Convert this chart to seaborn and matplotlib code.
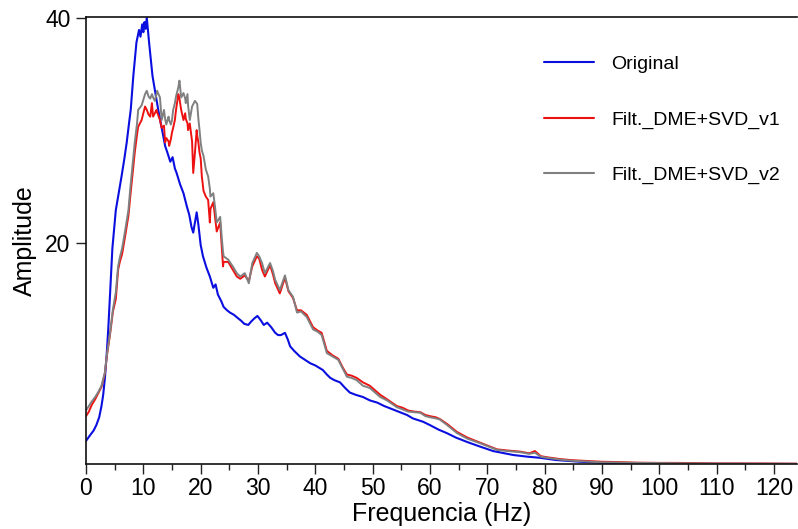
import matplotlib
matplotlib.use("Agg")
import matplotlib.pyplot as plt
import seaborn as sns
import pandas as pd
from matplotlib.ticker import MultipleLocator

# ---- data ----
freq_orig = [0.0, 0.7, 1.3, 1.8, 2.3, 2.7, 3.0, 3.3, 3.6, 3.9, 4.2, 4.6, 5.2, 5.7, 6.2,
             6.7, 7.1, 7.5, 7.8, 8.25, 8.8, 9.25, 9.5, 9.8, 10.0, 10.2, 10.4, 10.6,
             11.0, 11.6, 12.1, 12.6, 13.2, 13.8, 14.2, 14.7, 15.1, 15.5, 15.8, 16.4,
             17.0, 17.6, 18.0, 18.4, 18.7, 19.0, 19.3, 19.6, 20.0, 20.4, 21.0, 21.6,
             22.2, 22.6, 23.0, 23.6, 24.0, 24.6, 25.1, 25.8, 26.5, 27.0, 27.6, 28.3,
             28.8, 29.4, 29.9, 30.5, 31.0, 31.6, 32.3, 33.0, 33.5, 34.0, 34.7, 35.2,
             35.6, 36.3, 37.3, 38.2, 39.1, 40.0, 41.3, 42.0, 42.6, 43.3, 44.3, 45.2,
             46.0, 47.0, 48.3, 49.5, 50.8, 52.0, 53.0, 54.5, 56.0, 57.0, 58.8, 60.0,
             61.5, 62.9, 64.5, 66.5, 68.7, 71.0, 73.0, 74.5, 77.0, 79.2, 82.0, 86.2,
             90.0, 95.0, 100.0, 110.0, 124.0]
amp_orig = [2.4, 2.9, 3.3, 3.8, 4.5, 5.5, 6.5, 8.0, 10.0, 12.5, 15.5, 19.5, 22.9, 24.4, 25.9,
            27.5, 28.9, 30.6, 31.8, 34.8, 37.8, 38.9, 38.3, 39.4, 38.7, 39.6, 39.0, 40.0,
            37.8, 34.8, 33.3, 31.8, 30.2, 28.6, 28.0, 27.2, 27.6, 26.6, 26.2, 25.2,
            24.4, 23.2, 22.5, 21.4, 20.9, 21.8, 22.7, 21.6, 19.8, 18.8, 17.8, 17.0,
            16.0, 16.3, 15.4, 14.8, 14.3, 14.0, 13.8, 13.6, 13.3, 13.1, 12.8, 12.7,
            13.0, 13.3, 13.5, 13.1, 12.7, 12.9, 12.5, 12.0, 11.8, 11.8, 12.0, 11.4,
            10.8, 10.4, 9.9, 9.6, 9.3, 9.1, 8.7, 8.3, 8.0, 7.8, 7.6, 7.1,
            6.7, 6.5, 6.3, 6.0, 5.8, 5.5, 5.3, 5.0, 4.7, 4.4, 4.1, 3.8,
            3.4, 3.1, 2.7, 2.3, 1.9, 1.5, 1.3, 1.15, 1.0, 0.9, 0.7, 0.55,
            0.45, 0.4, 0.38, 0.36, 0.35]

freq_filt = [0.0, 0.5, 1.0, 1.6, 2.2, 2.7, 3.3, 3.6, 4.2, 4.7, 5.2, 5.6, 5.9, 6.3, 6.8,
             7.4, 7.7, 8.1, 8.5, 8.9, 9.1, 9.7, 10.0, 10.3, 10.6, 10.9, 11.2, 11.5,
             11.7, 12.0, 12.3, 12.4, 12.9, 13.2, 13.6, 13.8, 14.0, 14.4, 14.5, 14.8,
             15.0, 15.2, 15.5, 15.7, 16.1, 16.3, 16.6, 17.0, 17.3, 17.4, 17.7, 17.8,
             18.1, 18.5, 18.7, 19.0, 19.3, 19.4, 19.6, 19.8, 20.0, 20.2, 20.5, 20.9,
             21.3, 21.6, 21.7, 22.2, 22.5, 22.8, 23.4, 23.7, 23.9, 24.0, 24.8, 25.6,
             26.3, 26.9, 27.7, 28.4, 29.0, 29.8, 30.2, 30.7, 31.2, 32.1, 32.6, 33.0,
             33.8, 34.7, 35.3, 36.1, 36.8, 37.5, 38.5, 39.6, 40.4, 41.1, 42.0, 43.0,
             44.0, 44.8, 45.5, 46.3, 47.2, 48.3, 49.5, 50.4, 51.3, 52.5, 54.2, 55.2,
             56.2, 57.3, 58.3, 59.2, 60.0, 61.0, 61.7, 63.0, 64.7, 66.5, 68.7, 70.2,
             71.7, 73.5, 75.7, 77.3, 78.3, 79.3, 80.4, 82.5, 84.5, 86.2, 88.0, 90.0,
             93.0, 96.0, 100.0, 103.0, 110.0, 117.0, 124.0]
amp_v1 = [4.6, 5.0, 5.6, 6.1, 6.7, 7.2, 8.4, 9.8, 11.9, 13.9, 15.0, 17.6, 18.3, 19.0, 20.5,
          22.4, 24.0, 26.0, 28.0, 29.6, 30.3, 30.9, 31.5, 32.1, 31.8, 31.4, 31.2, 32.4,
          31.2, 31.5, 31.8, 31.6, 30.9, 30.2, 30.4, 28.9, 29.3, 29.0, 28.6, 29.2,
          29.8, 30.2, 30.9, 31.8, 33.2, 32.8, 31.8, 30.9, 31.5, 31.0, 30.6, 30.0,
          30.6, 29.0, 26.2, 28.0, 30.0, 29.5, 28.9, 28.0, 27.5, 25.9, 24.6, 24.1,
          23.8, 21.8, 23.0, 23.6, 22.3, 21.0, 21.8, 19.5, 17.9, 18.3, 18.3, 17.6,
          17.0, 16.8, 17.1, 16.6, 17.9, 18.8, 18.6, 17.6, 17.0, 18.0, 17.2, 16.4,
          15.5, 16.9, 15.7, 15.1, 14.0, 14.0, 13.6, 12.5, 12.2, 12.0, 10.4, 10.0,
          9.7, 8.9, 8.3, 8.2, 8.0, 7.6, 7.3, 6.9, 6.5, 6.1, 5.5, 5.35,
          5.1, 5.0, 4.95, 4.7, 4.6, 4.5, 4.35, 3.9, 3.2, 2.7, 2.25, 1.95,
          1.65, 1.55, 1.45, 1.3, 1.5, 1.05, 0.95, 0.8, 0.7, 0.65, 0.6, 0.55,
          0.52, 0.47, 0.45, 0.45, 0.4, 0.4, 0.38]
amp_v2 = [5.1, 5.5, 5.9, 6.3, 6.8, 7.3, 8.5, 9.9, 12.0, 14.1, 15.6, 17.9, 18.7, 19.5, 21.0,
          22.9, 24.7, 26.8, 28.9, 30.6, 31.8, 32.2, 32.7, 33.2, 33.5, 33.0, 32.8, 33.2,
          32.9, 32.6, 33.2, 33.5, 32.9, 30.9, 31.8, 31.0, 30.5, 31.2, 30.9, 30.5,
          30.9, 31.8, 32.4, 33.0, 33.8, 34.4, 32.9, 33.3, 32.8, 32.4, 33.2, 32.2,
          30.9, 32.1, 32.3, 32.6, 32.4, 32.3, 31.0, 30.0, 28.9, 28.2, 27.7, 26.5,
          25.9, 24.8, 24.1, 24.4, 23.2, 21.8, 22.3, 20.3, 19.2, 18.8, 18.5, 17.9,
          17.3, 17.0, 17.3, 16.4, 18.2, 19.1, 18.8, 18.2, 17.3, 18.2, 17.5, 16.7,
          15.8, 17.1, 15.8, 15.2, 13.8, 13.9, 13.4, 12.3, 12.1, 11.8, 10.2, 9.9,
          9.6, 8.8, 8.1, 8.0, 7.8, 7.3, 7.1, 6.7, 6.3, 6.0, 5.4, 5.2,
          5.0, 4.95, 4.9, 4.6, 4.5, 4.4, 4.3, 3.8, 3.1, 2.6, 2.2, 1.9,
          1.6, 1.5, 1.4, 1.25, 1.35, 1.0, 0.9, 0.75, 0.65, 0.6, 0.55, 0.5,
          0.48, 0.45, 0.43, 0.41, 0.38, 0.37, 0.37]

labels = ["Original", "Filt._DME+SVD_v1", "Filt._DME+SVD_v2"]
colors = ["#0a0fe0", "#ee1111", "#808080"]

x_ticks = list(range(0, 121, 10))
y_ticks = [20, 40]

# ---- plotting ----
sns.set_style("ticks")
plt.rcParams["font.family"] = ["Liberation Sans", "DejaVu Sans"]
plt.rcParams["text.color"] = "black"
plt.rcParams["axes.labelcolor"] = "black"
plt.rcParams["xtick.color"] = "black"
plt.rcParams["ytick.color"] = "black"

fig = plt.figure(figsize=(7.98, 5.29), dpi=100)
ax = fig.add_axes([86 / 798, 1 - 464 / 529, (797 - 86) / 798, (464 - 17) / 529])

df_o = pd.DataFrame({"f": freq_orig, "a": amp_orig})
df_1 = pd.DataFrame({"f": freq_filt, "a": amp_v1})
df_2 = pd.DataFrame({"f": freq_filt, "a": amp_v2})

sns.lineplot(data=df_o, x="f", y="a", ax=ax, color=colors[0], lw=1.5, label=labels[0], estimator=None, sort=False)
sns.lineplot(data=df_1, x="f", y="a", ax=ax, color=colors[1], lw=1.4, label=labels[1], estimator=None, sort=False)
sns.lineplot(data=df_2, x="f", y="a", ax=ax, color=colors[2], lw=1.4, label=labels[2], estimator=None, sort=False)

ax.set_xlim(0, 124)
ax.set_ylim(0.35, 40.05)
ax.set_xticks(x_ticks)
ax.xaxis.set_minor_locator(MultipleLocator(5))
ax.set_yticks(y_ticks)

ax.tick_params(axis="both", which="major", direction="out", length=7, width=1.0,
               labelsize=16.5, pad=2.5, color="#222222", labelcolor="black")
ax.tick_params(axis="y", which="major", pad=4)
ax.tick_params(axis="x", which="minor", direction="out", length=4, width=1.0, color="#222222")

ax.set_xlabel("Frequencia (Hz)", fontsize=18, labelpad=1)
ax.set_ylabel("Amplitude", fontsize=18, labelpad=6)

for side in ["left", "bottom", "top"]:
    ax.spines[side].set_linewidth(1.2)
    ax.spines[side].set_color("#111111")
ax.spines["right"].set_visible(False)

leg = ax.legend(loc="center left", bbox_to_anchor=(0.644, 0.77), frameon=False,
                fontsize=14, handlelength=2.57, handletextpad=0.9, labelspacing=1.94,
                borderpad=0, borderaxespad=0)
for line in leg.get_lines():
    line.set_linewidth(1.5)

fig.savefig("out.png", dpi=100)
